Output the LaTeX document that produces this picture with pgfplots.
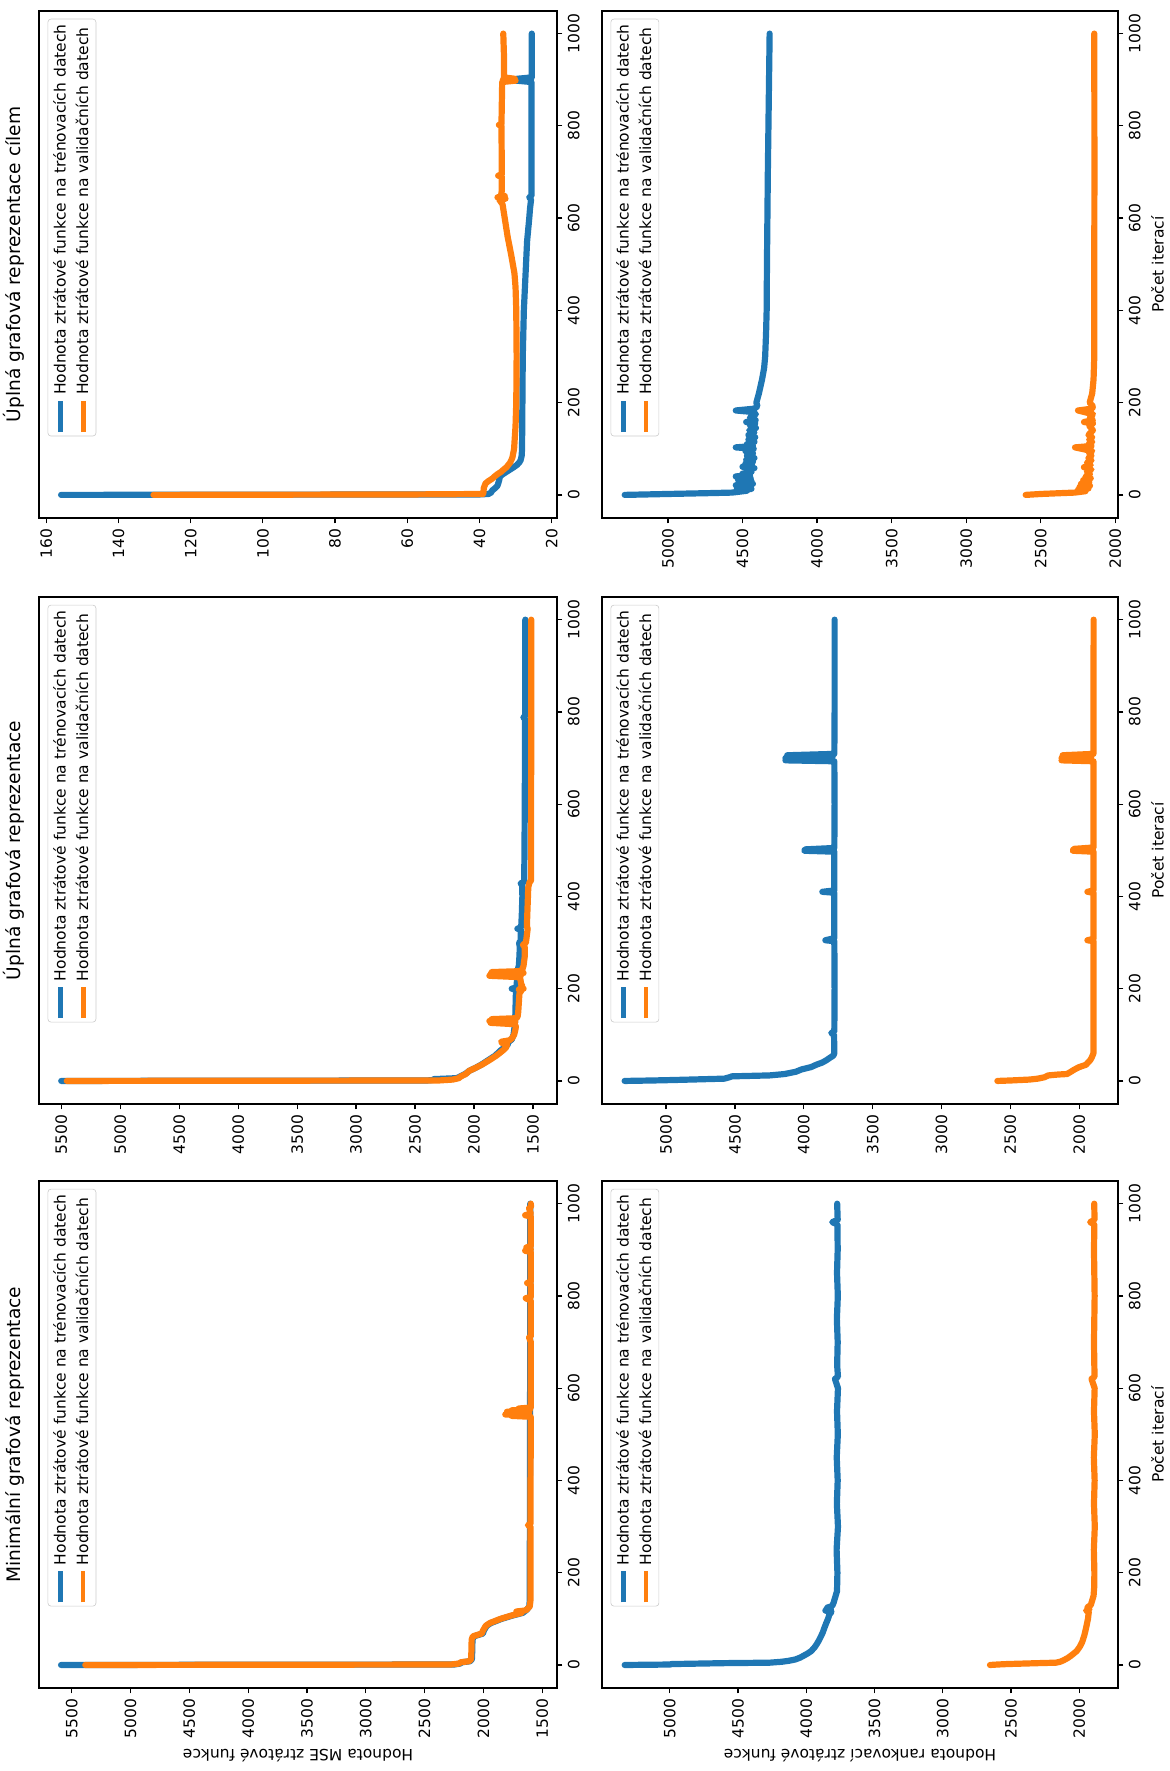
\documentclass[border=0pt]{standalone}
\usepackage{fontspec}
\setmainfont{DejaVu Sans}
\usepackage{pgfplots}
\pgfplotsset{compat=1.18}

\definecolor{mplblue}{RGB}{31,119,180}
\definecolor{mplorange}{RGB}{255,127,14}

\pgfplotsset{
  lossaxis/.style={
    scale only axis,
    anchor=north west,
    axis line style={line width=0.8pt},
    every tick/.style={black, line width=0.8pt},
    tick align=outside, tick pos=left, major tick length=3.5pt,
    xmin=-50, xmax=1049,
    xtick={0,200,...,1000},
    scaled ticks=false,
    tick label style={font=\fontsize{10}{12}\selectfont},
    label style={font=\fontsize{10}{12}\selectfont},
    title style={font=\fontsize{12}{14}\selectfont},
    /pgf/number format/1000 sep={},
    /pgf/number format/assume math mode=true,
    legend cell align=left,
    legend style={at={(1,1)}, anchor=north east, xshift=-5pt, yshift=-5.5pt,
      draw=black!20, rounded corners=2pt, fill=white, fill opacity=0.8,
      text opacity=1, draw opacity=1, font=\fontsize{10}{12}\selectfont,
      inner sep=1pt, row sep=0pt, nodes={inner sep=2.5pt}},
    legend image code/.code={\draw[#1, line width=3pt, line cap=butt] (0pt,0pt) -- (20pt,0pt);},
    every axis plot/.append style={line width=4pt, line join=round, line cap=round},
  },
  train/.style={mplblue},
  valid/.style={mplorange},
}

\begin{document}
\begin{tikzpicture}
\path[use as bounding box] (0,0) rectangle (754.65pt,1142.3pt);
\begin{scope}[transform canvas={rotate=90}]

% ---------- MSE, minimal graph representation ----------
\begin{axis}[lossaxis, at={(53.5pt,-25.2pt)}, width=327.0pt, height=334.1pt,
  ymin=1374, ymax=5777, ytick={1500,2000,...,5500},
  title={Minimální grafová reprezentace},
  ylabel={Hodnota MSE ztrátové funkce}]
\addplot[train] coordinates {(0,5590) (1,2250) (3,2200) (6,2180) (8,2115) (12,2098) (30,2095) (55,2093) (62,2080) (65,2045) (68,2005) (75,1995) (85,1972) (91,1935) (100,1845) (107,1755) (113,1665) (120,1630) (127,1610) (140,1606) (200,1606) (300,1605) (400,1605) (500,1604) (560,1604) (600,1603) (700,1603) (800,1603) (900,1602) (1000,1602)};
\addplot[valid] coordinates {(0,5384) (1,2280) (3,2210) (6,2190) (8,2125) (12,2105) (30,2102) (55,2100) (62,2090) (65,2055) (68,2015) (75,2003) (85,1980) (91,1945) (100,1855) (107,1765) (113,1675) (116,1720) (118,1650) (120,1632) (127,1606) (140,1600) (200,1600) (300,1599) (303,1622) (306,1599) (400,1599) (500,1598) (538,1598) (540,1760) (541,1620) (543,1814) (544,1650) (546,1790) (547,1610) (549,1800) (550,1640) (552,1760) (553,1605) (556,1700) (558,1597) (600,1597) (700,1597) (710,1612) (712,1597) (790,1597) (795,1640) (798,1597) (825,1597) (828,1628) (831,1597) (895,1597) (898,1645) (901,1597) (905,1635) (908,1597) (972,1597) (975,1645) (978,1597) (990,1612) (993,1595) (1000,1597)};
\legend{Hodnota ztrátové funkce na trénovacích datech, Hodnota ztrátové funkce na validačních datech}
\end{axis}

% ---------- MSE, full graph representation ----------
\begin{axis}[lossaxis, at={(430.2pt,-25.2pt)}, width=327.0pt, height=334.1pt,
  ymin=1296, ymax=5688, ytick={1500,2000,...,5500},
  title={Úplná grafová reprezentace}]
\addplot[train] coordinates {(0,5500) (1,2400) (2,2350) (4,2340) (6,2150) (8,2130) (12,2100) (16,2070) (22,2040) (28,1990) (35,1940) (45,1880) (55,1820) (65,1780) (75,1730) (80,1710) (84,1745) (86,1700) (90,1680) (100,1665) (110,1660) (120,1655) (140,1650) (160,1648) (190,1645) (198,1645) (200,1680) (202,1650) (205,1640) (220,1635) (240,1630) (250,1620) (270,1615) (290,1612) (300,1618) (303,1605) (328,1603) (330,1632) (333,1600) (360,1595) (400,1590) (425,1592) (428,1605) (432,1575) (500,1572) (600,1570) (700,1568) (785,1567) (788,1582) (791,1566) (1000,1565)};
\addplot[valid] coordinates {(0,5453) (1,2300) (3,2180) (6,2130) (10,2110) (15,2070) (22,2040) (28,1990) (35,1935) (45,1870) (55,1810) (65,1760) (72,1730) (78,1720) (82,1760) (85,1770) (88,1700) (92,1680) (100,1660) (110,1650) (118,1645) (123,1655) (126,1860) (128,1650) (130,1870) (132,1660) (134,1850) (136,1640) (140,1630) (150,1625) (170,1620) (190,1615) (195,1600) (198,1620) (200,1580) (202,1610) (205,1590) (210,1600) (225,1610) (228,1870) (230,1600) (232,1860) (234,1580) (236,1850) (238,1610) (242,1590) (250,1580) (270,1570) (290,1570) (295,1585) (300,1560) (330,1545) (335,1552) (420,1540) (430,1530) (435,1516) (500,1516) (600,1516) (800,1515) (1000,1515)};
\legend{Hodnota ztrátové funkce na trénovacích datech, Hodnota ztrátové funkce na validačních datech}
\end{axis}

% ---------- MSE, full graph representation with target ----------
\begin{axis}[lossaxis, at={(808.2pt,-25.2pt)}, width=327.0pt, height=334.1pt,
  ymin=18.5, ymax=162, ytick={20,40,...,160},
  title={Úplná grafová reprezentace cílem}]
\addplot[train] coordinates {(0,155.9) (1,40) (2,37.5) (5,36.8) (10,36.4) (15,35.6) (20,35.0) (30,34.6) (40,34.3) (45,33.5) (50,32.5) (55,31.5) (60,30.5) (65,29.6) (70,29.0) (75,28.6) (85,28.3) (100,28.2) (200,28.1) (300,28.0) (400,27.7) (450,27.4) (500,27.1) (550,26.8) (600,26.2) (620,26.0) (640,25.7) (645,26.2) (648,25.6) (700,25.6) (800,25.6) (895,25.6) (898,29.8) (900,28.5) (902,29.6) (905,25.5) (1000,25.5)};
\addplot[valid] coordinates {(0,130.3) (1,58.5) (2,39.0) (5,38.9) (15,38.8) (25,38.3) (30,37.5) (35,36.5) (40,35.8) (45,35.0) (50,34.0) (55,33.3) (60,32.5) (70,31.5) (80,30.9) (100,30.4) (150,30.0) (200,29.8) (300,29.7) (400,29.8) (450,30.0) (480,30.3) (520,31.2) (560,32.2) (600,33.0) (630,33.6) (640,34.5) (642,32.8) (645,35.0) (648,33.0) (650,34.0) (660,33.8) (690,33.8) (692,34.8) (695,33.8) (800,33.9) (802,34.6) (804,33.9) (895,33.7) (898,30.0) (900,33.5) (902,30.2) (905,33.2) (950,33.2) (1000,33.4)};
\legend{Hodnota ztrátové funkce na trénovacích datech, Hodnota ztrátové funkce na validačních datech}
\end{axis}

% ---------- ranking loss, minimal graph representation ----------
\begin{axis}[lossaxis, at={(53.5pt,-388.3pt)}, width=327.0pt, height=332.8pt,
  ymin=1716, ymax=5497, ytick={2000,2500,...,5000},
  xlabel={Počet iterací},
  ylabel={Hodnota rankovací ztrátové funkce}]
\addplot[train] coordinates {(0,5331) (1,5000) (2,4986) (4,4600) (5,4269) (7,4180) (9,4130) (12,4080) (16,4045) (20,4020) (25,3990) (30,3965) (38,3940) (45,3924) (52,3910) (60,3896) (70,3880) (80,3868) (90,3855) (100,3841) (110,3830) (115,3815) (118,3860) (120,3820) (124,3850) (128,3810) (135,3800) (145,3790) (150,3785) (160,3775) (200,3772) (250,3778) (300,3768) (350,3776) (400,3770) (450,3777) (500,3769) (550,3775) (600,3768) (620,3790) (625,3768) (650,3774) (700,3770) (750,3776) (800,3769) (850,3775) (900,3770) (955,3772) (960,3810) (965,3770) (1000,3774)};
\addplot[valid] coordinates {(0,2654) (1,2600) (2,2530) (4,2300) (5,2171) (7,2140) (10,2116) (15,2085) (20,2061) (30,2019) (40,1995) (50,1978) (65,1962) (80,1950) (100,1936) (115,1930) (118,1950) (121,1925) (125,1940) (130,1915) (140,1905) (150,1895) (170,1890) (200,1889) (250,1893) (300,1886) (350,1892) (400,1887) (450,1893) (500,1886) (550,1892) (600,1887) (620,1910) (625,1888) (700,1892) (800,1887) (900,1892) (955,1889) (960,1920) (965,1888) (1000,1890)};
\legend{Hodnota ztrátové funkce na trénovacích datech, Hodnota ztrátové funkce na validačních datech}
\end{axis}

% ---------- ranking loss, full graph representation ----------
\begin{axis}[lossaxis, at={(430.2pt,-388.3pt)}, width=327.0pt, height=332.8pt,
  ymin=1718, ymax=5465, ytick={2000,2500,...,5000},
  xlabel={Počet iterací}]
\addplot[train] coordinates {(0,5301) (1,5100) (2,4950) (3,4822) (5,4576) (8,4540) (10,4521) (12,4248) (15,4139) (20,4057) (25,4016) (30,3947) (35,3910) (40,3865) (45,3835) (50,3811) (55,3785) (60,3778) (100,3780) (104,3800) (107,3778) (200,3776) (303,3778) (305,3843) (308,3800) (310,3778) (408,3778) (410,3865) (413,3778) (497,3778) (499,3996) (502,3990) (505,3778) (600,3776) (693,3778) (695,4133) (698,3800) (700,4133) (703,3790) (706,4120) (709,3778) (800,3776) (1000,3776)};
\addplot[valid] coordinates {(0,2594) (1,2500) (3,2361) (5,2300) (8,2252) (12,2224) (14,2150) (15,2088) (20,2060) (25,2033) (30,2000) (35,1951) (45,1920) (50,1910) (60,1896) (200,1896) (303,1896) (305,1940) (308,1896) (408,1896) (410,1940) (413,1896) (497,1896) (499,2046) (503,2040) (506,1896) (693,1896) (695,2128) (698,1920) (700,2128) (704,1910) (706,2120) (709,1896) (1000,1895)};
\legend{Hodnota ztrátové funkce na trénovacích datech, Hodnota ztrátové funkce na validačních datech}
\end{axis}

% ---------- ranking loss, full graph representation with target ----------
\begin{axis}[lossaxis, at={(808.2pt,-388.3pt)}, width=327.0pt, height=332.8pt,
  ymin=1982, ymax=5442, ytick={2000,2500,...,5000},
  xlabel={Počet iterací}]
\addplot[train] coordinates {(0,5290) (2,5000) (4,4700) (5,4571) (7,4520) (9,4470) (11,4540) (13,4440) (15,4520) (18,4450) (21,4545) (24,4430) (27,4500) (30,4440) (33,4530) (36,4445) (40,4545) (43,4450) (46,4500) (50,4440) (55,4470) (58,4420) (61,4500) (64,4435) (68,4480) (72,4430) (76,4475) (80,4420) (85,4470) (90,4430) (95,4480) (100,4425) (103,4545) (106,4430) (110,4470) (115,4420) (120,4460) (125,4415) (130,4460) (135,4420) (140,4455) (145,4410) (150,4450) (155,4415) (158,4475) (162,4412) (168,4450) (175,4410) (180,4440) (183,4545) (187,4420) (192,4400) (200,4407) (220,4390) (250,4369) (275,4355) (300,4348) (350,4342) (400,4338) (500,4336) (600,4333) (700,4330) (800,4326) (900,4322) (1000,4318)};
\addplot[valid] coordinates {(0,2601) (2,2500) (4,2350) (5,2273) (8,2200) (11,2250) (14,2180) (17,2240) (20,2170) (24,2230) (28,2175) (32,2215) (36,2165) (40,2200) (45,2170) (50,2190) (55,2160) (60,2210) (65,2165) (70,2190) (75,2160) (80,2180) (85,2160) (90,2175) (95,2155) (103,2270) (106,2160) (110,2180) (115,2155) (120,2175) (125,2155) (130,2180) (140,2150) (150,2175) (155,2150) (158,2210) (162,2150) (168,2170) (175,2150) (183,2250) (187,2155) (192,2150) (200,2172) (220,2155) (250,2146) (300,2141) (500,2141) (700,2140) (1000,2141)};
\legend{Hodnota ztrátové funkce na trénovacích datech, Hodnota ztrátové funkce na validačních datech}
\end{axis}

\end{scope}
\end{tikzpicture}
\end{document}
